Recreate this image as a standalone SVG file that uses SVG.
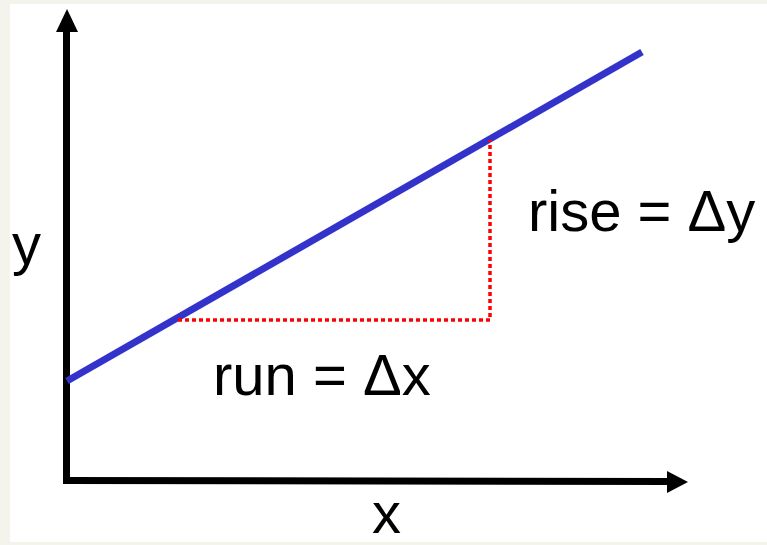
<svg xmlns="http://www.w3.org/2000/svg" width="767" height="545" viewBox="0 0 767 545">
  <style>
    .lbl { font-family: "Liberation Sans", Arial, sans-serif; font-size: 58px; fill: #000; }
    .axis { stroke: #000; stroke-width: 7; fill: none; }
    .slope { stroke: #3333cc; stroke-width: 7; stroke-linecap: butt; }
    .guide { stroke: #ff0000; stroke-width: 3.5; stroke-dasharray: 4 3; fill: none; }
  </style>
  <rect x="0" y="0" width="767" height="545" fill="#f4f4ec"/>
  <rect x="10" y="4" width="757" height="538" fill="#ffffff"/>
  <g id="connectors">
    <g id="y-axis">
      <line class="axis" x1="66.5" y1="483.5" x2="66.5" y2="30"/>
      <polygon points="67,9 56,32 78,32" fill="#000"/>
    </g>
    <g id="x-axis">
      <line class="axis" x1="63" y1="480.5" x2="670" y2="481.5"/>
      <polygon points="688,482 667,471 667,493" fill="#000"/>
    </g>
    <line id="slope-line" class="slope" x1="67" y1="381" x2="642" y2="52"/>
    <g id="run-rise">
      <polyline class="guide" points="178,320 490,320 490,140"/>
    </g>
  </g>
  <g id="label-y"><text class="lbl" x="12" y="264">y</text></g>
  <g id="label-x"><text class="lbl" x="372" y="533">x</text></g>
  <g id="label-rise"><text class="lbl" x="528" y="231">rise = Δy</text></g>
  <g id="label-run"><text class="lbl" x="213" y="395">run = Δx</text></g>
</svg>
